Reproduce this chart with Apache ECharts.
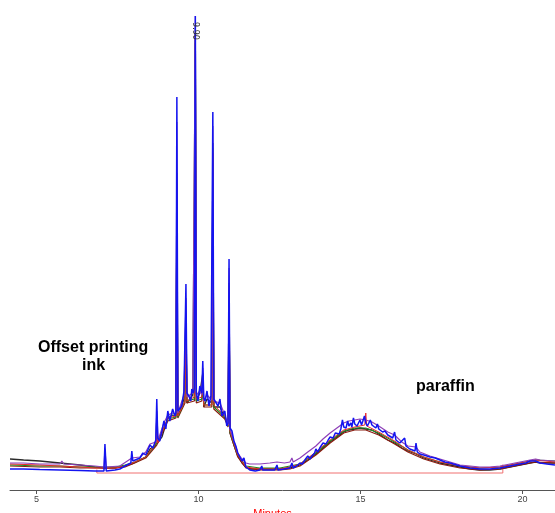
<!DOCTYPE html>
<html>
<head>
<meta charset="UTF-8">
<title>Chromatogram</title>
<script src="https://cdn.jsdelivr.net/npm/echarts@6.0.0/dist/echarts.min.js"></script>
<style>
  html, body { margin: 0; padding: 0; background: #fff; }
</style>
</head>
<body>
<div id="main" style="width:555px;height:513px;"></div>
<script type="text/javascript">
// retention time (minutes) vs detector response, one array per overlaid run
var tickMinutes = [5, 10, 15, 20];

var blueTrace = [
  [4.18, 4], [4.6, 4], [5.10, 3.5], [5.72, 3], [6.34, 2.5], [6.80, 2], [7.08, 2], [7.11, 29], [7.15, 2],
  [7.42, 3], [7.57, 4], [7.73, 7], [7.91, 10], [7.94, 22], [7.97, 12], [8.03, 12], [8.19, 15], [8.28, 20],
  [8.37, 18], [8.50, 28], [8.59, 25], [8.68, 33], [8.71, 74], [8.74, 35], [8.80, 32], [8.87, 42], [8.93, 52],
  [8.99, 44], [9.05, 62], [9.11, 52], [9.20, 64], [9.27, 57], [9.30, 60], [9.33, 376], [9.36, 62], [9.42, 60],
  [9.48, 67], [9.55, 82], [9.58, 80], [9.61, 189], [9.64, 80], [9.70, 77], [9.76, 72], [9.79, 84], [9.84, 80],
  [9.87, 85], [9.90, 457], [9.93, 80], [9.98, 72], [10.04, 87], [10.10, 80], [10.13, 112], [10.16, 75],
  [10.20, 72], [10.26, 82], [10.32, 67], [10.38, 77], [10.41, 75], [10.44, 361], [10.47, 74], [10.53, 72],
  [10.60, 67], [10.66, 74], [10.72, 57], [10.81, 62], [10.87, 47], [10.91, 50], [10.94, 214], [10.97, 45],
  [11.03, 42], [11.09, 32], [11.15, 27], [11.21, 20], [11.27, 22], [11.34, 12], [11.40, 15], [11.46, 6],
  [11.58, 3], [11.75, 2], [11.89, 3], [11.95, 7], [11.98, 3], [12.20, 3], [12.35, 3], [12.42, 8], [12.45, 3],
  [12.65, 4], [12.82, 5], [12.88, 10], [12.92, 5], [13.02, 7], [13.13, 10], [13.20, 9], [13.28, 13],
  [13.37, 17], [13.44, 14], [13.50, 17], [13.58, 20], [13.62, 24], [13.68, 21], [13.74, 25], [13.84, 30],
  [13.93, 29], [14.00, 33], [14.06, 36], [14.15, 35], [14.22, 40], [14.27, 41], [14.34, 39], [14.39, 44],
  [14.44, 53], [14.48, 46], [14.55, 45], [14.60, 52], [14.64, 47], [14.70, 50], [14.73, 46], [14.78, 55],
  [14.82, 49], [14.89, 47], [14.98, 53], [15.03, 48], [15.07, 49], [15.12, 57], [15.16, 50], [15.21, 47],
  [15.25, 48], [15.30, 53], [15.35, 48], [15.41, 46], [15.47, 45], [15.52, 49], [15.56, 44], [15.62, 42],
  [15.68, 41], [15.75, 42], [15.84, 38], [15.90, 36], [15.99, 35], [16.05, 41], [16.09, 33], [16.15, 31],
  [16.21, 30], [16.27, 29], [16.36, 35], [16.40, 27], [16.46, 25], [16.52, 24], [16.58, 23], [16.68, 22],
  [16.71, 30], [16.75, 21], [16.83, 19], [16.95, 18], [17.14, 16], [17.30, 15], [17.45, 13], [17.60, 11],
  [17.76, 10], [18.07, 7], [18.38, 5], [18.68, 4], [18.99, 4], [19.30, 5], [19.61, 7], [19.92, 9],
  [20.10, 10], [20.23, 12], [20.40, 12], [20.54, 10], [20.75, 9], [21.0, 8]
];

var purpleTrace = [
  [4.18, 10], [4.6, 10], [5.10, 9], [5.72, 9], [5.78, 12], [5.84, 9], [6.34, 8], [6.80, 7], [7.08, 6],
  [7.11, 24], [7.15, 6], [7.57, 7], [7.94, 15], [8.19, 16], [8.37, 21], [8.50, 29], [8.68, 31], [8.71, 62],
  [8.75, 33], [8.93, 50], [9.05, 58], [9.20, 60], [9.30, 59], [9.33, 351], [9.36, 60], [9.55, 78], [9.58, 76],
  [9.61, 175], [9.64, 76], [9.82, 80], [9.87, 82], [9.90, 457], [9.93, 78], [10.04, 82], [10.10, 78],
  [10.13, 105], [10.16, 72], [10.26, 78], [10.41, 73], [10.44, 347], [10.47, 72], [10.66, 70], [10.81, 58],
  [10.91, 48], [10.94, 205], [10.97, 44], [11.09, 32], [11.21, 20], [11.34, 14], [11.46, 10], [11.58, 9],
  [11.89, 9], [12.20, 10], [12.42, 11], [12.65, 10], [12.82, 11], [12.88, 15], [12.92, 11], [13.13, 15],
  [13.37, 21], [13.62, 27], [13.84, 34], [14.06, 40], [14.27, 45], [14.48, 50], [14.64, 52], [14.82, 53],
  [14.98, 54], [15.16, 53], [15.35, 51], [15.56, 47], [15.84, 41], [16.05, 38], [16.27, 31], [16.46, 27],
  [16.71, 26], [16.83, 21], [17.14, 17], [17.45, 14], [17.76, 11], [18.07, 8], [18.38, 7], [18.68, 6],
  [18.99, 6], [19.30, 7], [19.61, 9], [19.92, 11], [20.23, 13], [20.40, 14], [20.54, 13], [21.0, 12]
];

var blackTrace = [
  [4.18, 14], [4.6, 13], [5.10, 12], [5.72, 10], [6.34, 8], [6.80, 6], [7.08, 5], [7.42, 5], [7.73, 7],
  [7.94, 9], [8.19, 13], [8.37, 16], [8.50, 24], [8.68, 28], [8.71, 55], [8.74, 30], [8.87, 36], [9.05, 55],
  [9.20, 58], [9.30, 57], [9.33, 300], [9.36, 56], [9.55, 74], [9.58, 72], [9.61, 160], [9.64, 70],
  [9.82, 78], [9.87, 78], [9.90, 440], [9.93, 72], [10.04, 80], [10.10, 78], [10.13, 100], [10.16, 66],
  [10.26, 74], [10.41, 70], [10.44, 330], [10.47, 66], [10.66, 66], [10.81, 55], [10.91, 48], [10.94, 190],
  [10.97, 40], [11.09, 28], [11.21, 17], [11.34, 10], [11.46, 6], [11.58, 4], [11.89, 4], [12.20, 4],
  [12.51, 4], [12.82, 5], [13.13, 8], [13.37, 13], [13.62, 19], [13.84, 25], [14.06, 31], [14.27, 36],
  [14.48, 41], [14.64, 43], [14.82, 44], [14.98, 45], [15.16, 44], [15.35, 43], [15.56, 39], [15.84, 33],
  [16.05, 30], [16.27, 25], [16.46, 22], [16.71, 19], [16.95, 15], [17.14, 13], [17.45, 10], [17.76, 8],
  [18.07, 6], [18.38, 4], [18.68, 3], [18.99, 3], [19.30, 4], [19.61, 6], [19.92, 8], [20.23, 10],
  [20.40, 11], [20.54, 10], [21.0, 10]
];

var brownTrace = [
  [4.18, 7], [5.10, 6], [5.72, 6], [6.34, 5], [6.80, 5], [7.42, 5], [7.73, 6], [8.03, 10], [8.37, 15],
  [8.71, 28], [9.05, 52], [9.30, 55], [9.33, 280], [9.36, 55], [9.58, 70], [9.61, 150], [9.64, 70],
  [9.87, 72], [9.90, 430], [9.93, 70], [10.10, 72], [10.13, 95], [10.16, 66], [10.41, 66], [10.44, 320],
  [10.47, 64], [10.81, 54], [10.91, 46], [10.94, 180], [10.97, 40], [11.21, 16], [11.46, 5], [11.89, 3],
  [12.51, 3], [12.82, 4], [13.13, 7], [13.62, 18], [14.06, 30], [14.48, 40], [14.82, 43], [15.16, 43],
  [15.56, 38], [16.05, 29], [16.46, 21], [16.95, 14], [17.45, 9], [18.07, 5], [18.68, 3], [19.30, 4],
  [19.92, 8], [20.40, 11], [21.0, 10]
];

var greenTrace = [
  [4.18, 8], [5.10, 7], [5.72, 7], [6.34, 6], [6.80, 6], [7.42, 6], [7.73, 8], [8.03, 11], [8.37, 16],
  [8.71, 30], [9.05, 54], [9.30, 56], [9.33, 290], [9.36, 56], [9.58, 72], [9.61, 155], [9.64, 72],
  [9.87, 74], [9.90, 445], [9.93, 72], [10.10, 74], [10.13, 98], [10.16, 68], [10.41, 68], [10.44, 325],
  [10.47, 66], [10.81, 56], [10.91, 47], [10.94, 185], [10.97, 41], [11.21, 18], [11.46, 7], [11.89, 5],
  [12.51, 5], [12.82, 7], [13.13, 9], [13.62, 20], [14.06, 32], [14.48, 42], [14.82, 45], [15.16, 45],
  [15.56, 40], [16.05, 31], [16.46, 23], [16.95, 16], [17.45, 11], [18.07, 7], [18.68, 5], [19.30, 6],
  [19.92, 10], [20.40, 13], [21.0, 12]
];

var redTrace = [
  [4.18, 9], [5.10, 8], [5.72, 7], [6.34, 6], [6.80, 5], [7.42, 5], [7.73, 7], [8.03, 11], [8.37, 16],
  [8.68, 30], [8.71, 40], [8.74, 30], [9.05, 55], [9.30, 57], [9.33, 290], [9.36, 57], [9.58, 72],
  [9.61, 150], [9.64, 72], [9.87, 76], [9.90, 440], [9.93, 74], [10.10, 76], [10.13, 98], [10.16, 68],
  [10.41, 68], [10.44, 320], [10.47, 68], [10.81, 57], [10.91, 48], [10.94, 185], [10.97, 42], [11.21, 18],
  [11.46, 6], [11.89, 4], [12.51, 4], [12.82, 6], [13.13, 9], [13.62, 21], [14.06, 33], [14.48, 43],
  [14.82, 46], [15.13, 48], [15.16, 60], [15.19, 47], [15.56, 41], [16.05, 32], [16.46, 23], [16.95, 16],
  [17.45, 11], [18.07, 7], [18.68, 5], [19.30, 6], [19.92, 10], [20.40, 13], [21.0, 11]
];

// integration window drawn as a red open box
var windowX = [6.86, 6.86, 19.39, 19.39];
var windowY = [3.5, 0, 0, 8.5];

var peakLabel = { time: 9.90, level: 442, text: '9.90' };

var myChart = echarts.init(document.getElementById('main'));

function lineSeries(name, data, color, width) {
  return {
    name: name,
    type: 'line',
    data: data,
    symbol: 'none',
    smooth: false,
    lineStyle: { color: color, width: width },
    z: 2
  };
}

var windowData = windowX.map(function (x, i) { return [x, windowY[i]]; });

var series = [
  lineSeries('run 1', blackTrace, '#2b2b2b', 1.3),
  lineSeries('run 2', brownTrace, '#8b1c10', 1.2),
  lineSeries('run 3', greenTrace, '#1f8a1f', 1.1),
  lineSeries('run 4', redTrace, '#e8282a', 1),
  lineSeries('run 5', purpleTrace, '#8e3fb8', 1.2),
  lineSeries('run 6', blueTrace, '#1414f0', 1.5),
  {
    name: 'window',
    type: 'line',
    data: windowData,
    symbol: 'none',
    lineStyle: { color: '#f07070', width: 1 },
    z: 1
  }
];

series[5].markPoint = {
  symbol: 'circle',
  symbolSize: 1,
  itemStyle: { color: 'rgba(0,0,0,0)' },
  label: {
    show: true,
    position: 'inside',
    rotate: -90,
    formatter: peakLabel.text,
    fontSize: 8,
    color: '#333',
    fontFamily: 'DejaVu Sans'
  },
  data: [{ coord: [peakLabel.time, peakLabel.level] }]
};

myChart.setOption({
  animation: false,
  backgroundColor: '#ffffff',
  grid: { left: 10, right: 0, top: 0, bottom: 23, containLabel: false, outerBoundsMode: 'none' },
  xAxis: {
    type: 'value',
    min: 4.18,
    max: 21.0,
    name: 'Minutes',
    nameLocation: 'middle',
    nameGap: 14,
    nameTextStyle: {
      color: '#ff0000',
      fontSize: 11,
      fontFamily: 'Liberation Sans',
      padding: [0, 20, 0, 0],
      verticalAlign: 'top'
    },
    axisLine: { show: true, onZero: false, lineStyle: { color: '#555', width: 1 } },
    axisTick: { show: true, customValues: tickMinutes, length: 4, lineStyle: { color: '#555' } },
    axisLabel: {
      customValues: tickMinutes,
      color: '#444',
      fontSize: 9,
      margin: 5,
      fontFamily: 'Liberation Sans'
    },
    splitLine: { show: false }
  },
  yAxis: {
    type: 'value',
    min: -17,
    max: 473,
    show: false,
    splitLine: { show: false }
  },
  series: series,
  graphic: [
    {
      type: 'text',
      left: 38,
      top: 340,
      style: {
        text: 'Offset printing',
        font: 'bold 16px "Liberation Sans", Arial, sans-serif',
        fill: '#000'
      }
    },
    {
      type: 'text',
      left: 82,
      top: 358,
      style: {
        text: 'ink',
        font: 'bold 16px "Liberation Sans", Arial, sans-serif',
        fill: '#000'
      }
    },
    {
      type: 'text',
      left: 416,
      top: 379,
      style: {
        text: 'paraffin',
        font: 'bold 16px "Liberation Sans", Arial, sans-serif',
        fill: '#000'
      }
    }
  ]
});
</script>
</body>
</html>
